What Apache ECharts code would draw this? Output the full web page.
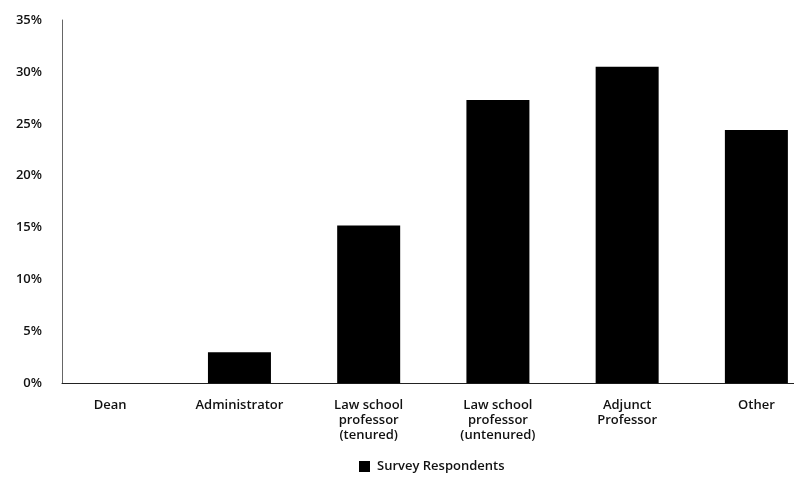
<!DOCTYPE html>
<html>
<head>
<meta charset="utf-8">
<script src="https://cdn.jsdelivr.net/npm/echarts@6/dist/echarts.min.js"></script>
<style>
  html, body { margin: 0; padding: 0; background: #fff; overflow: hidden; }
  /* the canvas runs a little past the window so the last band is cut off at the edge */
  #chart { width: 821px; height: 477px; }
</style>
</head>
<body>
<div id="chart"></div>
<script>
// Share of survey respondents by role (percent)
const categories = [
  'Dean',
  'Administrator',
  'Law school\nprofessor\n(tenured)',
  'Law school\nprofessor\n(untenured)',
  'Adjunct\nProfessor',
  'Other'
];
const respondents = [0, 3.0, 15.2, 27.3, 30.5, 24.4];
const seriesName = 'Survey Respondents';
const yTicks = { min: 0, max: 35, interval: 5 };

const font = '"Open Sans", "Noto Sans", sans-serif';
const plotTop = 20;
const plotHeight = 363.3;

const chart = echarts.init(document.getElementById('chart'), null, { renderer: 'canvas' });

chart.setOption({
  animation: false,
  textStyle: { fontFamily: font },
  grid: [
    // bars and category labels
    { left: 45.6, top: plotTop, right: 0, height: plotHeight },
    // visible axis frame and percentage scale
    { left: 62, top: plotTop, right: 27, height: plotHeight }
  ],
  legend: {
    data: [seriesName],
    left: 354,
    top: 455,
    itemWidth: 11,
    itemHeight: 11,
    itemGap: 10,
    icon: 'rect',
    textStyle: { fontFamily: font, fontSize: 13, fontWeight: 600, color: '#111', padding: [0, 0, 0, 2] }
  },
  xAxis: [
    {
      type: 'category',
      gridIndex: 0,
      data: categories,
      axisLine: { show: false },
      axisTick: { show: false },
      axisLabel: {
        interval: 0,
        margin: 14,
        fontSize: 13,
        fontWeight: 600,
        lineHeight: 15,
        color: '#111',
        fontFamily: font
      }
    },
    {
      type: 'value',
      gridIndex: 1,
      min: 0,
      max: 1,
      axisLine: { show: true, lineStyle: { color: '#222', width: 1 } },
      axisTick: { show: false },
      axisLabel: { show: false },
      splitLine: { show: false }
    }
  ],
  yAxis: [
    {
      type: 'value',
      gridIndex: 0,
      min: yTicks.min,
      max: yTicks.max,
      interval: yTicks.interval,
      show: false
    },
    {
      type: 'value',
      gridIndex: 1,
      min: yTicks.min,
      max: yTicks.max,
      interval: yTicks.interval,
      axisLine: { show: true, lineStyle: { color: '#666', width: 1 } },
      axisTick: { show: false },
      splitLine: { show: false },
      axisLabel: {
        margin: 20,
        fontSize: 13,
        fontWeight: 600,
        color: '#111',
        fontFamily: font,
        formatter: '{value}%'
      }
    }
  ],
  series: [
    {
      name: seriesName,
      type: 'bar',
      xAxisIndex: 0,
      yAxisIndex: 0,
      data: respondents,
      barWidth: 63,
      itemStyle: { color: '#000' }
    }
  ]
});
</script>
</body>
</html>
